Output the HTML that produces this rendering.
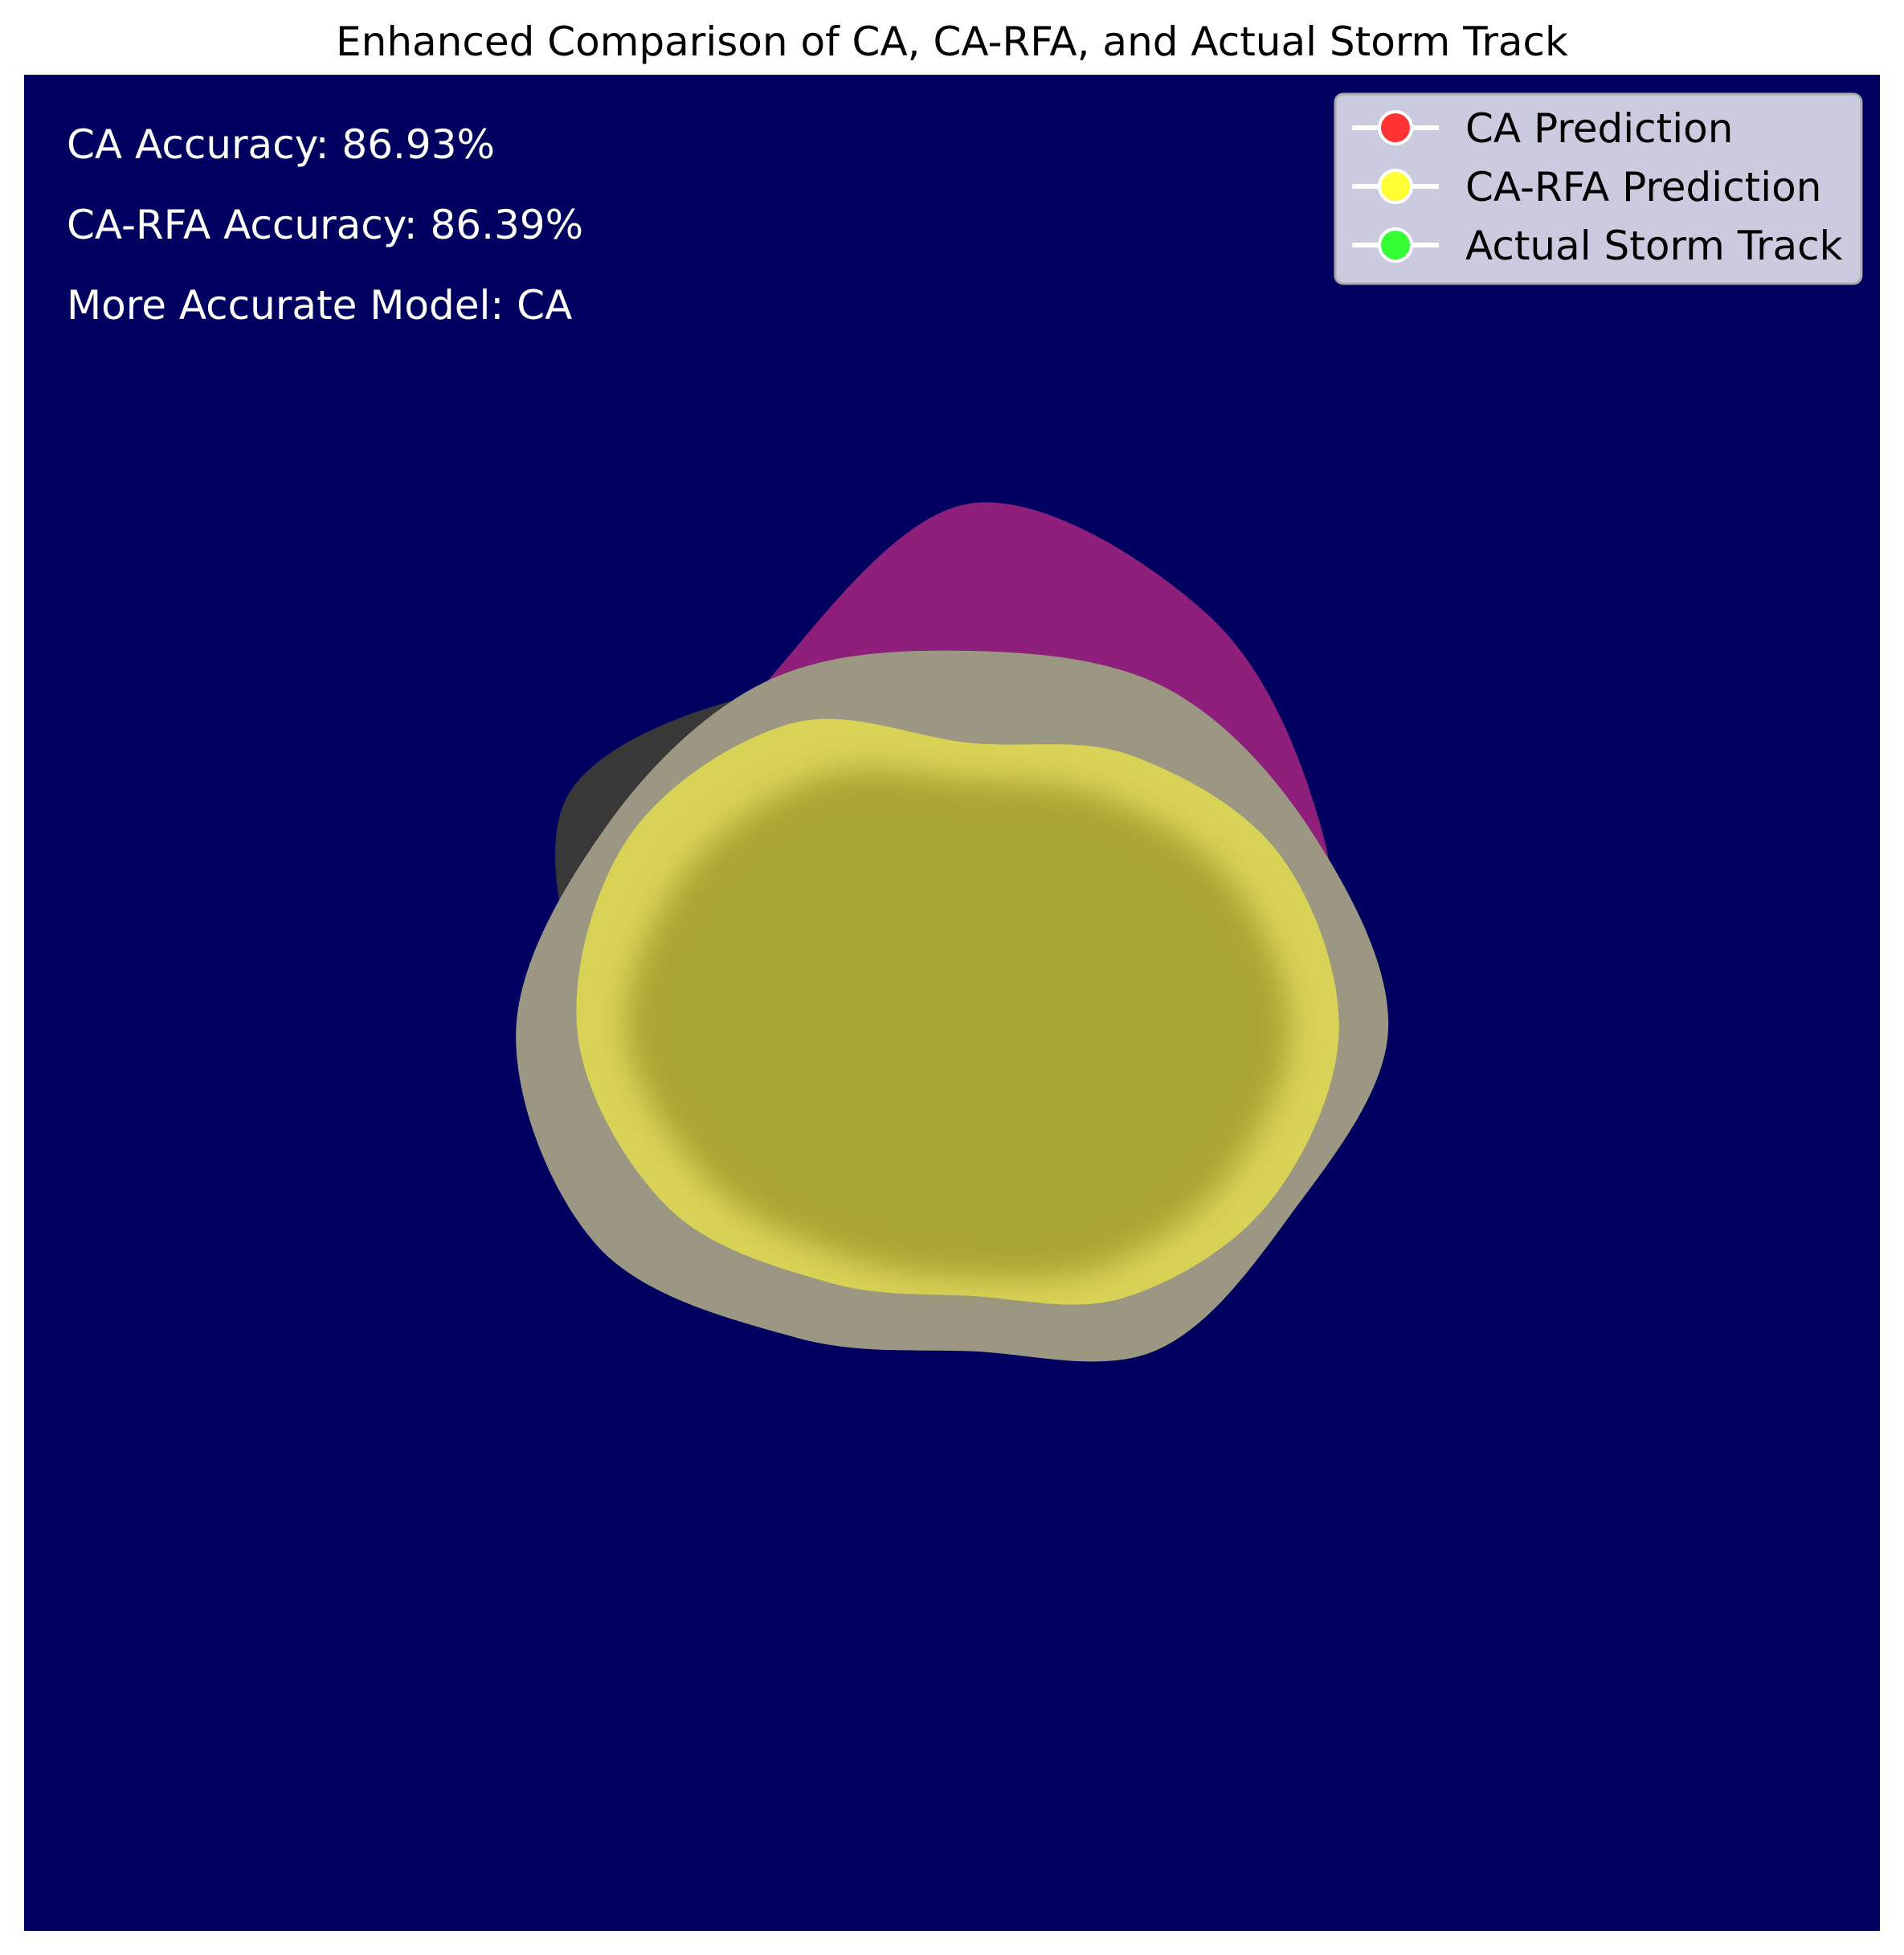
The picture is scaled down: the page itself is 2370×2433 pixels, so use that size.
<!DOCTYPE html>
<html><head><meta charset="utf-8"><style>
html,body{margin:0;padding:0;background:#fff;}
svg{display:block;font-family:"DejaVu Sans","Liberation Sans",sans-serif;}
</style></head><body>
<svg id="chart" width="2370" height="2433" viewBox="0 0 2370 2433">
<defs><filter id="soft" x="-20%" y="-20%" width="140%" height="140%"><feGaussianBlur stdDeviation="18"/></filter></defs>
<text x="1185" y="69" text-anchor="middle" font-size="50" fill="#000">Enhanced Comparison of CA, CA-RFA, and Actual Storm Track</text>
<rect x="30" y="93" width="2310" height="2310" fill="#000060"/>
<g id="layers"></g>
<text x="83" y="197" font-size="50" fill="#fff">CA Accuracy: 86.93%</text>
<text x="83" y="297" font-size="50" fill="#fff">CA-RFA Accuracy: 86.39%</text>
<text x="83" y="397" font-size="50" fill="#fff">More Accurate Model: CA</text>
<g>
<rect x="1662" y="117" width="655" height="236" rx="10" fill="#cbcbe0" stroke="#aaa" stroke-width="3"/>
<g id="legend-items"></g>
</g>
</svg>
<script>
const angles = [0,30,60,90,120,150,180,210,240,270,300,330];
const magentaR = [290,250,250,230,240,280,280,290,330,430,390,330];
const grayR    = [340,300,300,260,287,350,370,340,330,310,322,322];
const darkR    = [200,200,200,200,200,200,300,380,320,250,200,200];
const yellowR  = [300,280,250,215,235,285,320,320,290,235,260,290];
const coreR    = [260,240,220,200,210,245,280,265,240,205,220,245];
const legendLabels = ["CA Prediction","CA-RFA Prediction","Actual Storm Track"];
const legendColors = ["#ff3333","#ffff33","#33ff33"];

const cx = 1208, cy = 1284, k = 1.529;
const NS = "http://www.w3.org/2000/svg";
function pts(radii){
  return radii.map((r,i)=>{const a=angles[i]*Math.PI/180;return [cx+Math.cos(a)*r*k, cy+Math.sin(a)*r*k];});
}
function smooth(p){
  const n=p.length;let d=`M${p[0][0]},${p[0][1]}`;
  for(let i=0;i<n;i++){
    const p0=p[(i-1+n)%n],p1=p[i],p2=p[(i+1)%n],p3=p[(i+2)%n];
    const c1=[p1[0]+(p2[0]-p0[0])/6,p1[1]+(p2[1]-p0[1])/6];
    const c2=[p2[0]-(p3[0]-p1[0])/6,p2[1]-(p3[1]-p1[1])/6];
    d+=`C${c1[0]},${c1[1]} ${c2[0]},${c2[1]} ${p2[0]},${p2[1]}`;
  }
  return d+"Z";
}
const g=document.getElementById('layers');
function layer(radii,fill,name,filt){
  const el=document.createElementNS(NS,'path');
  el.setAttribute('d',smooth(pts(radii)));
  el.setAttribute('fill',fill);
  if(filt) el.setAttribute('filter',filt);
  
  
  g.appendChild(el);
}
layer(magentaR,'#8e1f7a','ca-overprediction-region');
layer(darkR,'#383838','carfa-overprediction-region');
layer(grayR,'#9b9783','actual-track-region');
layer(yellowR,'#d8d256','overlap-region');
layer(coreR,'#aaa632','core-region','url(#soft)');

const li=document.getElementById('legend-items');
legendLabels.forEach((lab,i)=>{
  const y=159+i*73;
  const ln=document.createElementNS(NS,'line');
  ln.setAttribute('x1',1683);ln.setAttribute('x2',1791);ln.setAttribute('y1',y);ln.setAttribute('y2',y);
  ln.setAttribute('stroke','#fff');ln.setAttribute('stroke-width',6);
  
  
  li.appendChild(ln);
  const c=document.createElementNS(NS,'circle');
  c.setAttribute('cx',1737);c.setAttribute('cy',y);c.setAttribute('r',20);
  c.setAttribute('fill',legendColors[i]);c.setAttribute('stroke','#fff');c.setAttribute('stroke-width',4);
  
  
  li.appendChild(c);
  const t=document.createElementNS(NS,'text');
  t.setAttribute('x',1824);t.setAttribute('y',y+18);t.setAttribute('font-size',50);t.setAttribute('fill','#000');
  t.textContent=lab;
  
  
  li.appendChild(t);
});
</script>
</body></html>
